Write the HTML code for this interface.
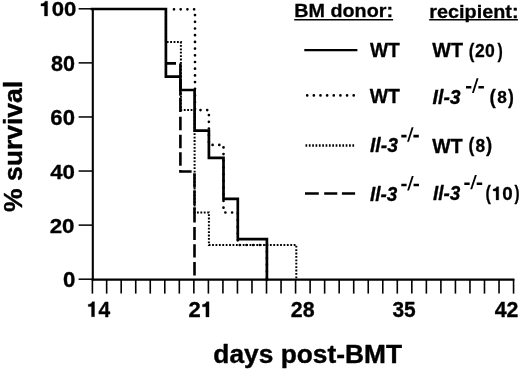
<!DOCTYPE html>
<html><head><meta charset="utf-8"><style>
html,body{margin:0;padding:0;background:#fff;overflow:hidden;}
svg{display:block;filter:grayscale(1);}
text{font-family:"Liberation Sans",sans-serif;font-weight:bold;font-size:20.0px;fill:#000;font-kerning:none;stroke:#000;stroke-width:0.3px;stroke-linejoin:round;}
</style></head><body>
<svg width="520" height="370" viewBox="0 0 520 370">
<rect width="520" height="370" fill="#fff"/>
<line x1="92.8" y1="8.4" x2="92.8" y2="280.5" stroke="#000" stroke-width="2.1"/>
<line x1="91.8" y1="279.6" x2="514.36" y2="279.6" stroke="#000" stroke-width="2.3"/>
<line x1="92.40" y1="279" x2="92.40" y2="293.6" stroke="#000" stroke-width="1.6"/>
<line x1="106.66" y1="279" x2="106.66" y2="293.6" stroke="#000" stroke-width="1.6"/>
<line x1="121.19" y1="279" x2="121.19" y2="293.6" stroke="#000" stroke-width="1.6"/>
<line x1="135.73" y1="279" x2="135.73" y2="293.6" stroke="#000" stroke-width="1.6"/>
<line x1="150.26" y1="279" x2="150.26" y2="293.6" stroke="#000" stroke-width="1.6"/>
<line x1="164.79" y1="279" x2="164.79" y2="293.6" stroke="#000" stroke-width="1.6"/>
<line x1="179.32" y1="279" x2="179.32" y2="293.6" stroke="#000" stroke-width="1.6"/>
<line x1="193.85" y1="279" x2="193.85" y2="293.6" stroke="#000" stroke-width="1.6"/>
<line x1="208.39" y1="279" x2="208.39" y2="293.6" stroke="#000" stroke-width="1.6"/>
<line x1="222.92" y1="279" x2="222.92" y2="293.6" stroke="#000" stroke-width="1.6"/>
<line x1="237.45" y1="279" x2="237.45" y2="293.6" stroke="#000" stroke-width="1.6"/>
<line x1="251.98" y1="279" x2="251.98" y2="293.6" stroke="#000" stroke-width="1.6"/>
<line x1="266.51" y1="279" x2="266.51" y2="293.6" stroke="#000" stroke-width="1.6"/>
<line x1="281.05" y1="279" x2="281.05" y2="293.6" stroke="#000" stroke-width="1.6"/>
<line x1="295.58" y1="279" x2="295.58" y2="293.6" stroke="#000" stroke-width="1.6"/>
<line x1="310.11" y1="279" x2="310.11" y2="293.6" stroke="#000" stroke-width="1.6"/>
<line x1="324.64" y1="279" x2="324.64" y2="293.6" stroke="#000" stroke-width="1.6"/>
<line x1="339.17" y1="279" x2="339.17" y2="293.6" stroke="#000" stroke-width="1.6"/>
<line x1="353.71" y1="279" x2="353.71" y2="293.6" stroke="#000" stroke-width="1.6"/>
<line x1="368.24" y1="279" x2="368.24" y2="293.6" stroke="#000" stroke-width="1.6"/>
<line x1="382.77" y1="279" x2="382.77" y2="293.6" stroke="#000" stroke-width="1.6"/>
<line x1="397.30" y1="279" x2="397.30" y2="293.6" stroke="#000" stroke-width="1.6"/>
<line x1="411.83" y1="279" x2="411.83" y2="293.6" stroke="#000" stroke-width="1.6"/>
<line x1="426.37" y1="279" x2="426.37" y2="293.6" stroke="#000" stroke-width="1.6"/>
<line x1="440.90" y1="279" x2="440.90" y2="293.6" stroke="#000" stroke-width="1.6"/>
<line x1="455.43" y1="279" x2="455.43" y2="293.6" stroke="#000" stroke-width="1.6"/>
<line x1="469.96" y1="279" x2="469.96" y2="293.6" stroke="#000" stroke-width="1.6"/>
<line x1="484.49" y1="279" x2="484.49" y2="293.6" stroke="#000" stroke-width="1.6"/>
<line x1="499.03" y1="279" x2="499.03" y2="293.6" stroke="#000" stroke-width="1.6"/>
<line x1="513.56" y1="279" x2="513.56" y2="293.6" stroke="#000" stroke-width="1.6"/>
<line x1="78.6" y1="279.20" x2="92" y2="279.20" stroke="#000" stroke-width="1.5"/>
<line x1="78.6" y1="225.12" x2="92" y2="225.12" stroke="#000" stroke-width="1.5"/>
<line x1="78.6" y1="171.04" x2="92" y2="171.04" stroke="#000" stroke-width="1.5"/>
<line x1="78.6" y1="116.96" x2="92" y2="116.96" stroke="#000" stroke-width="1.5"/>
<line x1="78.6" y1="62.88" x2="92" y2="62.88" stroke="#000" stroke-width="1.5"/>
<line x1="78.6" y1="8.80" x2="92" y2="8.80" stroke="#000" stroke-width="1.5"/>
<g transform="translate(39.35,15.94) scale(1.1087,1.0377)"><text> 00</text><path d="M229 0 L372 0 L372 710 L256 710 C246 640 190 592 73 585 L73 478 L229 478 Z" stroke="#000" stroke-width="15.0" stroke-linejoin="round" transform="translate(0.000,0) scale(0.02,-0.02)"/></g>
<text transform="translate(50.98,70.73) scale(1.0763,1.0788)">80</text>
<text transform="translate(50.36,124.73) scale(1.1051,1.0788)">60</text>
<text transform="translate(50.13,178.74) scale(1.1156,1.0442)">40</text>
<text transform="translate(49.69,232.74) scale(1.1173,1.0442)">20</text>
<text transform="translate(63.09,286.73) scale(1.1109,1.0719)">0</text>
<g transform="translate(86.73,316.74) scale(1.0487,1.0621)"><text> 4</text><path d="M229 0 L372 0 L372 710 L256 710 C246 640 190 592 73 585 L73 478 L229 478 Z" stroke="#000" stroke-width="15.0" stroke-linejoin="round" transform="translate(0.000,0) scale(0.02,-0.02)"/></g>
<g transform="translate(188.60,316.94) scale(1.1007,1.0690)"><text>2 </text><path d="M229 0 L372 0 L372 710 L256 710 C246 640 190 592 73 585 L73 478 L229 478 Z" stroke="#000" stroke-width="15.0" stroke-linejoin="round" transform="translate(11.123,0) scale(0.02,-0.02)"/></g>
<text transform="translate(290.82,316.73) scale(1.0689,1.0719)">28</text>
<text transform="translate(392.38,317.00) scale(1.0450,1.0628)">35</text>
<text transform="translate(494.64,317.24) scale(1.0680,1.0656)">42</text>
<path d="M165.90,9.00 L165.90,42.10 L180.90,42.10 L180.90,110.10 L194.60,110.10 L194.60,212.50 L208.90,212.50 L208.90,245.00 L296.30,245.00 L296.30,279.50" fill="none" stroke="#000" stroke-width="2" stroke-dasharray="1.8 1.6"/>
<path d="M171.00,9.30 L195.00,9.30 L195.00,110.10 L208.90,110.10 L208.90,144.90 L223.50,144.90 L223.50,212.50 L237.80,212.50 L237.80,245.00 L266.90,245.00 L266.90,279.50" fill="none" stroke="#000" stroke-width="2.7" stroke-linecap="round" stroke-dasharray="0 6.7" stroke-dashoffset="-3.0"/>
<path d="M165.90,63.40 L176.00,63.40 M180.40,63.50 L180.40,77.00 M180.40,80.50 L180.40,95.80 M180.40,97.80 L180.40,112.00 M180.40,116.80 L180.40,130.30 M180.40,134.80 L180.40,148.30 M180.40,152.30 L180.40,165.80 M180.40,169.90 L180.40,172.80 M179.40,171.50 L191.60,171.50 M194.50,173.20 L194.50,187.80 M194.50,190.30 L194.50,204.90 M194.50,207.30 L194.50,222.40 M194.50,227.10 L194.50,239.90 M194.50,244.30 L194.50,257.50 M194.50,262.00 L194.50,275.50" fill="none" stroke="#000" stroke-width="2.6"/>
<path d="M92.00,9.00 L165.90,9.00 L165.90,76.60 L180.40,76.60 L180.40,90.00 L194.60,90.00 L194.60,130.70 L208.90,130.70 L208.90,157.90 L223.50,157.90 L223.50,198.80 L237.80,198.80 L237.80,239.10 L266.90,239.10 L266.90,279.50" fill="none" stroke="#000" stroke-width="2.7" stroke-linejoin="miter" stroke-linecap="square"/>
<text transform="translate(294.33,17.19) scale(0.9875,0.9008)">BM donor:</text>
<line x1="294.2" y1="19.7" x2="393.1" y2="19.7" stroke="#000" stroke-width="1.35"/>
<text transform="translate(429.34,17.73) scale(0.9911,0.9238)">recipient:</text>
<line x1="429.2" y1="19.7" x2="517.9" y2="19.7" stroke="#000" stroke-width="1.35"/>
<line x1="304.3" y1="50.1" x2="357.4" y2="50.1" stroke="#000" stroke-width="2.4"/>
<text transform="translate(369.93,57.45) scale(0.9628,0.9815)">WT</text>
<text transform="translate(432.33,57.45) scale(0.9885,1.0242)">WT</text>
<text transform="translate(468.79,57.72) scale(0.8411,1.0189)">(</text>
<text transform="translate(475.12,57.47) scale(0.8796,0.9543)">20</text>
<text transform="translate(497.60,57.72) scale(0.7906,1.0189)">)</text>
<line x1="307.2" y1="95.4" x2="354.5" y2="95.4" stroke="#000" stroke-width="2.7" stroke-linecap="round" stroke-dasharray="0 6.643"/>
<text transform="translate(369.63,102.85) scale(0.9724,1.0100)">WT</text>
<text transform="translate(432.60,103.66) scale(0.9713,0.9808)" style="font-style:italic">Il-3</text>
<path d="M466.00,85.95 H471.36 V88.57 H466.00 Z M478.39,85.95 H483.90 V88.57 H478.39 Z"/><path d="M471.92,92.90 L473.84,92.90 L478.54,78.20 L476.62,78.20 Z"/>
<text transform="translate(489.40,103.51) scale(0.9420,0.9978)">(</text>
<text transform="translate(497.28,103.21) scale(0.8650,0.8506)">8</text>
<text transform="translate(507.91,103.51) scale(0.8748,0.9978)">)</text>
<line x1="305.5" y1="145.4" x2="354.5" y2="145.4" stroke="#000" stroke-width="2.5" stroke-dasharray="1.7 1.65"/>
<text transform="translate(370.00,152.35) scale(0.9678,1.0008)" style="font-style:italic">Il-3</text>
<path d="M401.30,134.87 H406.54 V137.46 H401.30 Z M413.41,134.87 H418.80 V137.46 H413.41 Z"/><path d="M407.08,141.75 L408.96,141.75 L413.56,127.20 L411.68,127.20 Z"/>
<text transform="translate(432.33,152.65) scale(0.9756,1.0171)">WT</text>
<text transform="translate(468.46,152.43) scale(0.8748,0.9925)">(</text>
<text transform="translate(475.58,152.48) scale(0.8650,0.9198)">8</text>
<text transform="translate(485.92,152.43) scale(0.9252,0.9925)">)</text>
<path d="M305,193.5 L318.8,193.5 M324.2,193.5 L337.3,193.5 M341.9,193.5 L355.1,193.5" stroke="#000" stroke-width="2.4"/>
<text transform="translate(370.01,200.76) scale(0.9469,0.9808)" style="font-style:italic">Il-3</text>
<path d="M401.30,183.65 H406.60 V186.23 H401.30 Z M413.55,183.65 H419.00 V186.23 H413.55 Z"/><path d="M407.15,190.50 L409.05,190.50 L413.70,176.00 L411.80,176.00 Z"/>
<text transform="translate(433.01,199.56) scale(0.9469,0.9741)" style="font-style:italic">Il-3</text>
<path d="M464.30,182.49 H469.66 V185.06 H464.30 Z M476.69,182.49 H482.20 V185.06 H476.69 Z"/><path d="M470.22,189.30 L472.14,189.30 L476.84,174.90 L474.92,174.90 Z"/>
<text transform="translate(485.42,199.95) scale(0.8075,0.9661)">(</text>
<g transform="translate(491.77,199.98) scale(0.9375,0.9391)"><text> 0</text><path d="M229 0 L372 0 L372 710 L256 710 C246 640 190 592 73 585 L73 478 L229 478 Z" stroke="#000" stroke-width="15.0" stroke-linejoin="round" transform="translate(0.000,0) scale(0.02,-0.02)"/></g>
<text transform="translate(514.60,199.95) scale(0.7570,0.9661)">)</text>
<text transform="translate(213.32,362.68) scale(1.3169,1.2828)">days post-BMT</text>
<text transform="translate(21.55,211.96) rotate(-90) scale(1.3264,1.3011)">% survival</text>
</svg>
</body></html>
